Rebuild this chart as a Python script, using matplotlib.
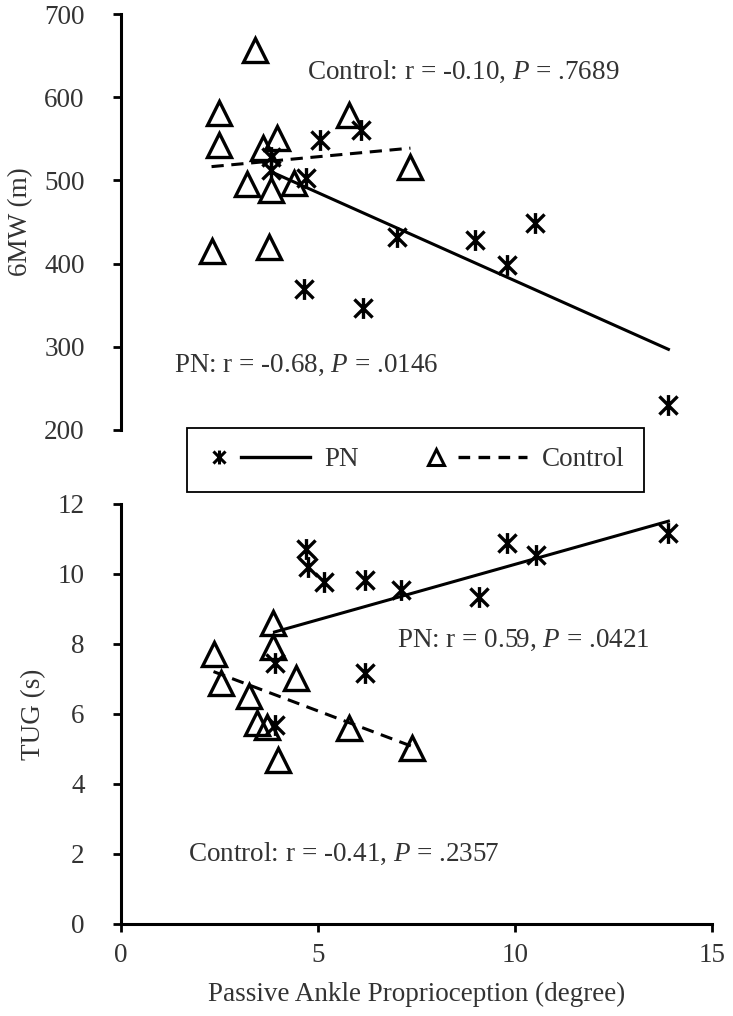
import numpy as np
import matplotlib.pyplot as plt
from matplotlib.path import Path
from matplotlib.lines import Line2D
from matplotlib.legend_handler import HandlerBase

plt.rcParams['font.family'] = 'Liberation Serif'
plt.rcParams['mathtext.fontset'] = 'custom'
plt.rcParams['mathtext.rm'] = 'Liberation Serif'
plt.rcParams['mathtext.it'] = 'Liberation Serif:italic'

# 6MW (m) vs passive ankle proprioception (degree)
pn_x_6mw = [3.8, 3.8, 4.7, 5.05, 6.1, 4.65, 6.15, 7.0, 9.0, 9.8, 10.5, 13.9]
pn_6mw = [528, 512, 503, 549, 561, 369, 347, 432, 428, 398, 449, 230]
ctl_x_6mw = [2.3, 2.5, 2.5, 3.2, 3.4, 3.6, 3.75, 3.8, 3.95, 4.4, 5.8, 7.35]
ctl_6mw = [415, 581, 542, 496, 657, 539, 420, 489, 551, 497, 579, 516]

# TUG (s)
pn_x_tug = [3.9, 3.9, 4.7, 4.75, 5.15, 6.2, 6.2, 7.1, 9.1, 9.8, 10.55, 13.9]
pn_tug = [7.45, 5.69, 10.7, 10.2, 9.78, 9.83, 7.16, 9.55, 9.33, 10.88, 10.54, 11.16]
ctl_x_tug = [2.35, 2.55, 3.25, 3.45, 3.7, 3.85, 3.85, 4.0, 4.45, 5.8, 7.4]
ctl_tug = [7.7, 6.88, 6.52, 5.75, 5.64, 8.6, 7.92, 4.69, 7.02, 5.6, 5.02]

txt_col = '#333333'
fs = 19.5

# Excel style star: X with vertical bar
star = Path([(-1, -1), (1, 1), (-1, 1), (1, -1), (0, -1.15), (0, 1.15)],
            [Path.MOVETO, Path.LINETO] * 3)
dash = (0, (4, 2.5))


def panel(ax, pn_x, pn_y, ctl_x, ctl_y):
    ax.plot(pn_x, pn_y, ls='none', marker=star, ms=15, mew=2.4, color='k')
    ax.plot(ctl_x, ctl_y, ls='none', marker='^', ms=17, mfc='none', mec='k', mew=2.4)
    for xs, ys, ls in [(pn_x, pn_y, '-'), (ctl_x, ctl_y, dash)]:
        k, b = np.polyfit(xs, ys, 1)
        xx = np.array([min(xs), max(xs)])
        ax.plot(xx, k * xx + b, color='k', lw=2.2, ls=ls)
    ax.set_xlim(0, 15)
    for s in ['top', 'right']:
        ax.spines[s].set_visible(False)
    for s in ['left', 'bottom']:
        ax.spines[s].set_linewidth(2.2)
    ax.tick_params(length=6, width=2, labelsize=fs, labelcolor=txt_col, pad=20)


fig = plt.figure(figsize=(7.33, 10.16), dpi=100)
ax1 = fig.add_axes([0.165, 0.5768, 0.806, 0.4094])
ax2 = fig.add_axes([0.165, 0.0906, 0.806, 0.4134])

panel(ax1, pn_x_6mw, pn_6mw, ctl_x_6mw, ctl_6mw)
ax1.set_ylim(200, 700)
ax1.set_yticks(range(200, 701, 100))
ax1.spines['bottom'].set_visible(False)
ax1.tick_params(axis='x', bottom=False, labelbottom=False)
ax1.set_ylabel('6MW (m)', fontsize=fs, color=txt_col, labelpad=8)
ax1.text(4.72, 630, 'Control: r = -0.10, $\\mathit{P}$ = .7689', fontsize=fs,
         color=txt_col, va='center')
ax1.text(1.35, 278, 'PN: r = -0.68, $\\mathit{P}$ = .0146', fontsize=fs,
         color=txt_col, va='center')

panel(ax2, pn_x_tug, pn_tug, ctl_x_tug, ctl_tug)
ax2.set_ylim(0, 12)
ax2.set_yticks(range(0, 13, 2))
ax2.set_xticks([0, 5, 10, 15])
ax2.tick_params(axis='x', pad=8)
ax2.set_ylabel('TUG (s)', fontsize=fs, color=txt_col, labelpad=8)
ax2.set_xlabel('Passive Ankle Proprioception (degree)', fontsize=fs, color=txt_col,
               labelpad=10)
ax2.text(7.0, 8.1, 'PN: r = 0.59, $\\mathit{P}$ = .0421', fontsize=fs,
         color=txt_col, va='center')
ax2.text(1.7, 2.0, 'Control: r = -0.41, $\\mathit{P}$ = .2357', fontsize=fs,
         color=txt_col, va='center')


class HandlerMarkerLine(HandlerBase):
    # marker on the left, line segment after it (like the Excel legend)
    def create_artists(self, legend, orig_handle, xdescent, ydescent,
                       width, height, fontsize, trans):
        mk, ln = orig_handle
        y = height / 2 - ydescent
        m = Line2D([0.12 * width - xdescent], [y])
        m.update_from(mk)
        l = Line2D([0.33 * width - xdescent, width - xdescent], [y, y])
        l.update_from(ln)
        for a in (m, l):
            a.set_transform(trans)
        return [m, l]


pn_mk = Line2D([], [], ls='none', marker=star, ms=10, mew=2.2, color='k')
pn_ln = Line2D([], [], color='k', lw=2.4)
ctl_mk = Line2D([], [], ls='none', marker='^', ms=11, mfc='none', mec='k', mew=2.2)
ctl_ln = Line2D([], [], color='k', lw=2.4, ls=(0, (3.5, 2.5)))

leg = fig.legend([(pn_mk, pn_ln), (ctl_mk, ctl_ln)], ['PN', 'Control'],
                 handler_map={tuple: HandlerMarkerLine()}, loc='center',
                 bbox_to_anchor=(0.5669, 0.5477), ncol=2, fontsize=fs,
                 frameon=True, fancybox=False, edgecolor='k', framealpha=1,
                 handlelength=3.8, handletextpad=0.55, columnspacing=2.4,
                 borderpad=0.72)
leg.get_frame().set_linewidth(1.3)
for t in leg.get_texts():
    t.set_color(txt_col)

fig.savefig('out.png', dpi=100)
